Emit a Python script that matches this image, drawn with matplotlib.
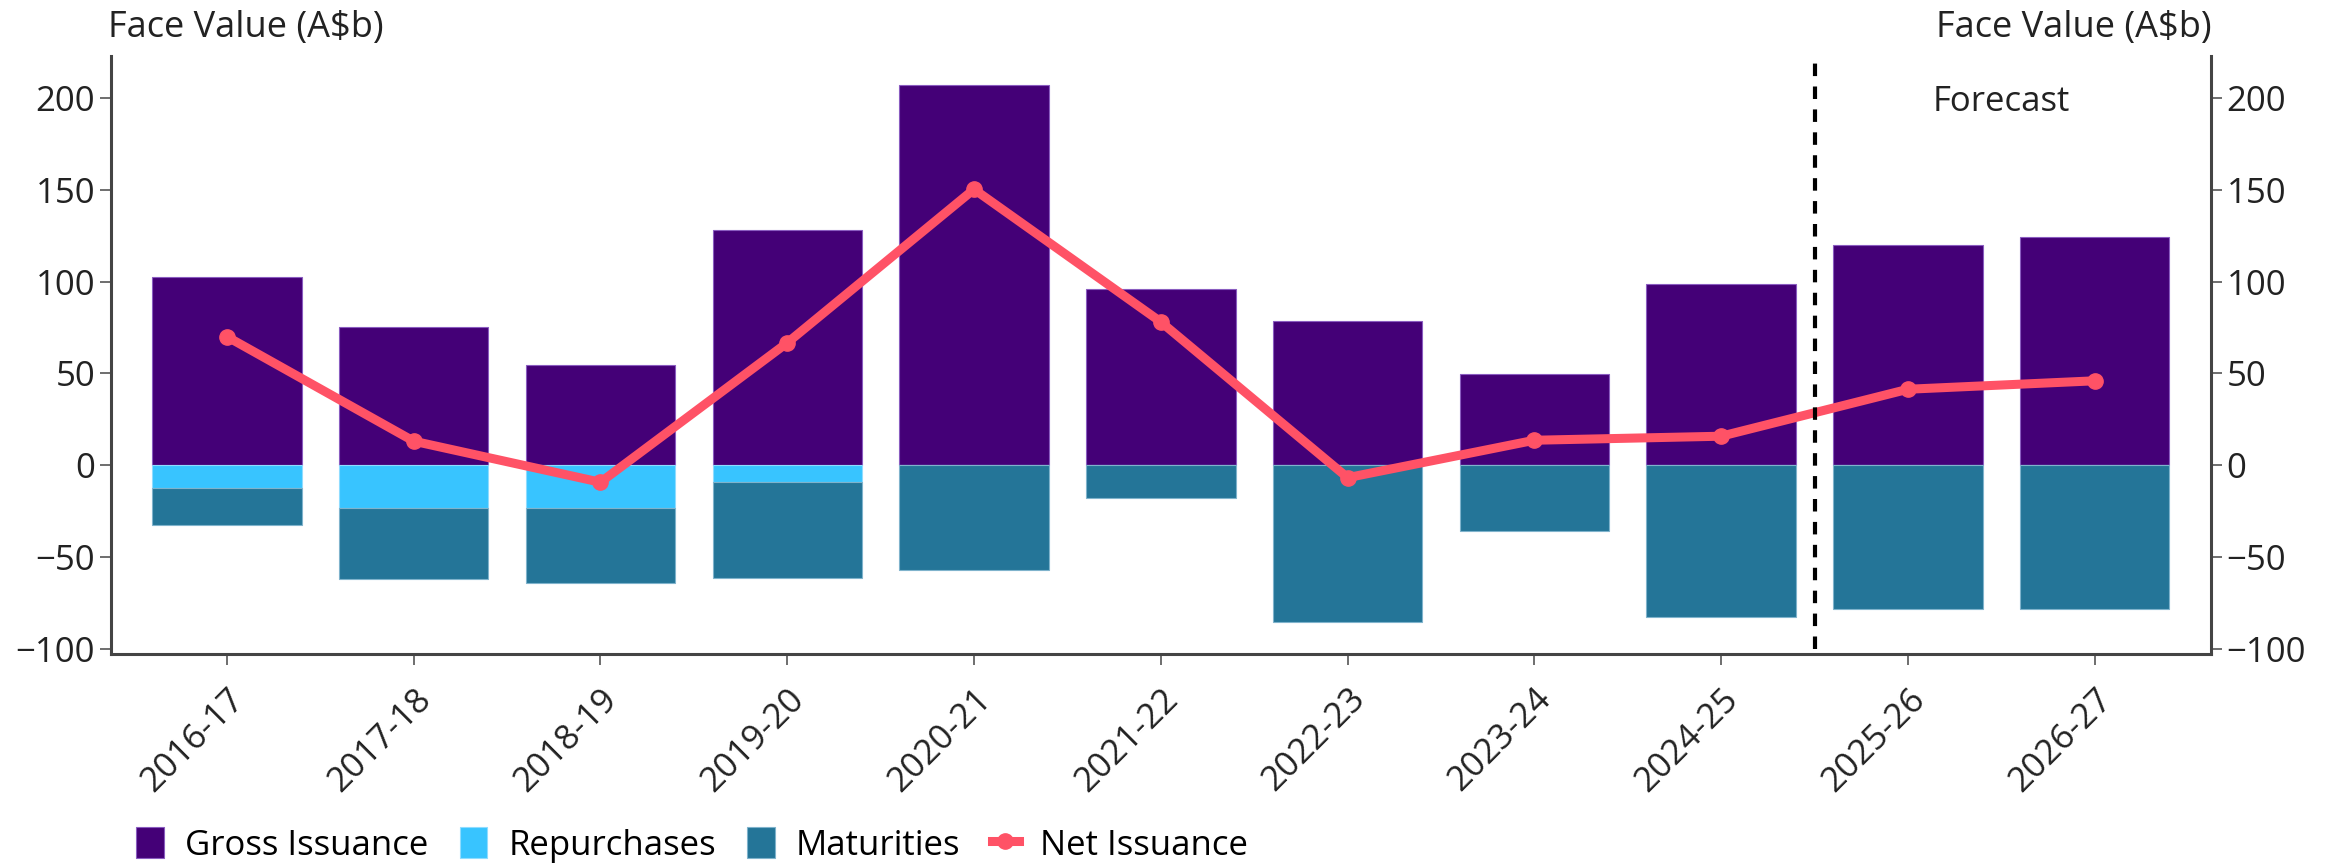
import matplotlib.pyplot as plt
import numpy as np

plt.rcParams['font.family'] = ['Open Sans', 'DejaVu Sans']

years = ["2016-17", "2017-18", "2018-19", "2019-20", "2020-21", "2021-22",
         "2022-23", "2023-24", "2024-25", "2025-26", "2026-27"]
gross = [102.7, 75.4, 54.7, 128.0, 207.3, 95.9, 78.8, 49.6, 98.8, 120.0, 124.6]
repurchases = [12.4, 23.1, 23.1, 9.2, 0, 0, 0, 0, 0, 0, 0]
maturities = [20.2, 39.2, 40.9, 52.1, 56.9, 17.8, 85.6, 36.0, 83.0, 78.6, 78.6]
net = [70.1, 13.1, -9.3, 66.7, 150.4, 78.1, -6.8, 13.6, 15.8, 41.4, 46.0]

c_gross = "#440077"
c_rep = "#38c4ff"
c_mat = "#247598"
c_net = "#ff5266"

x = np.arange(len(years))
rep_neg = -np.array(repurchases)
mat_neg = -np.array(maturities)

fig = plt.figure(figsize=(23.38, 8.63), dpi=100)
ax = fig.add_axes([0.0475, 0.242, 0.898, 0.693])

b1 = ax.bar(x, gross, 0.8, color=c_gross, edgecolor="#8a5cc0", linewidth=0.8, label="Gross Issuance")
b2 = ax.bar(x, rep_neg, 0.8, color=c_rep, edgecolor="#8fdcff", linewidth=0.8, label="Repurchases")
b3 = ax.bar(x, mat_neg, 0.8, bottom=rep_neg, color=c_mat, edgecolor="#7fb3cc", linewidth=0.8, label="Maturities")
l1, = ax.plot(x, net, color=c_net, lw=6.5, marker="o", ms=11, label="Net Issuance")

# forecast divider
ax.vlines(8.5, -100, 220, colors="black", linestyles=(0, (3, 2.5)), lw=3)
ax.text(9.5, 198, "Forecast", ha="center", va="center", fontsize=25, color="#222222")

ax.set_xlim(-0.62, 10.62)
ax.set_ylim(-103, 223)
ax.set_yticks([-100, -50, 0, 50, 100, 150, 200])
ax.set_xticks(x)
ax.set_xticklabels(years, rotation=45, ha="right", rotation_mode="anchor")

for s in ["left", "bottom", "right"]:
    ax.spines[s].set_linewidth(2.2)
    ax.spines[s].set_color("#444444")
ax.spines["top"].set_visible(False)
ax.tick_params(axis="both", labelsize=25, length=8, width=1.2, color="#555555", labelcolor="#222222")
ax.tick_params(axis="x", pad=12)
ax.tick_params(axis="y", left=True, right=True, labelleft=True, labelright=True)

fig.text(0.046, 0.968, "Face Value (A$b)", ha="left", va="center", fontsize=26, color="#222222")
fig.text(0.946, 0.968, "Face Value (A$b)", ha="right", va="center", fontsize=26, color="#222222")

fig.legend([b1, b2, b3, l1], ["Gross Issuance", "Repurchases", "Maturities", "Net Issuance"],
           loc="lower left", bbox_to_anchor=(0.045, -0.036), ncol=4, frameon=False,
           fontsize=25, handlelength=0.8, handleheight=1.0, handletextpad=0.6,
           columnspacing=0.9)

fig.savefig("out.png", dpi=100)
